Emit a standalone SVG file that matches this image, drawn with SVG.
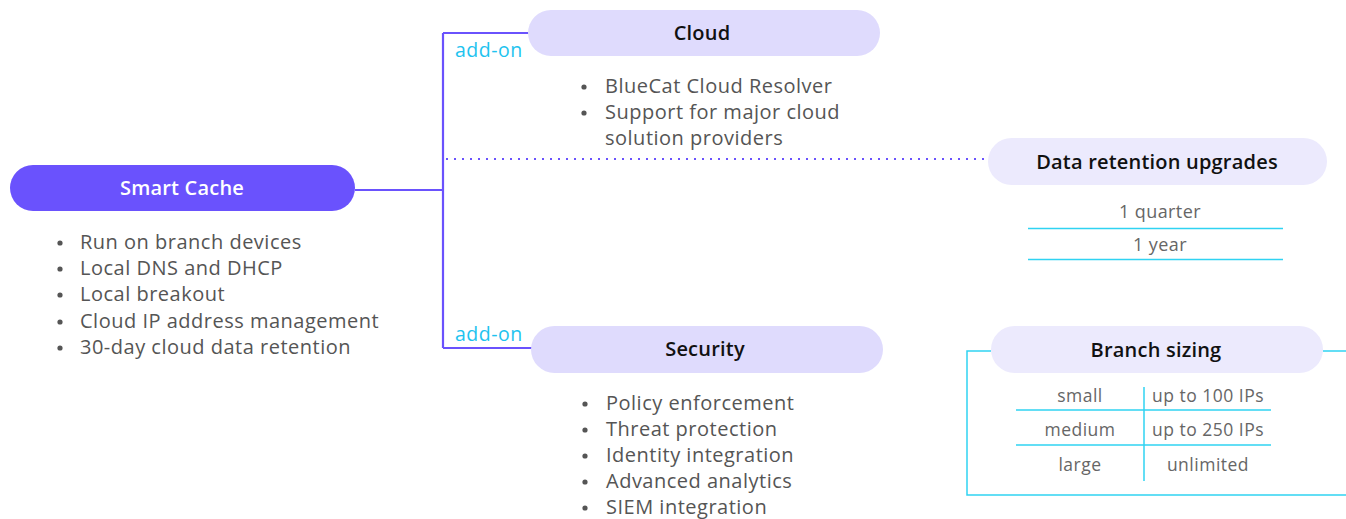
<svg xmlns="http://www.w3.org/2000/svg" width="1346" height="519" viewBox="0 0 1346 519">
<style>
.hd{font-family:"Open Sans",Lato,sans-serif;font-weight:600;font-size:20px;letter-spacing:0.2px;text-anchor:middle;dominant-baseline:central;fill:#111}
.li{font-family:"Open Sans",Lato,sans-serif;font-size:20px;letter-spacing:0.5px;fill:#555;dominant-baseline:central}
.tb{font-family:"Open Sans",Lato,sans-serif;font-size:17.5px;letter-spacing:0.5px;fill:#666;text-anchor:middle;dominant-baseline:central}
.ad{font-family:"Open Sans",Lato,sans-serif;font-size:19.5px;letter-spacing:0.5px;fill:#1ec3ef;dominant-baseline:central}
.cy{stroke:#30d3f2;stroke-width:1.5;fill:none}
.b{fill:#555}
</style>
<rect width="1346" height="519" fill="#fff"/>
<g id="connectors" fill="none">
<path d="M355 190 H443 M443 33 V348 M443 33 H530 M443 348 H532" stroke="#6a52fd" stroke-width="2.2"/>
<path d="M446 159 H986" stroke="#6a52fd" stroke-width="2.2" stroke-dasharray="2 6"/>
<text class="ad" x="455" y="49">add-on</text>
<text class="ad" x="455" y="333">add-on</text>
</g>
<g id="smart-cache">
<rect x="10" y="165" width="345" height="46" rx="23" fill="#6a52fd"/>
<text class="hd" x="182" y="187" style="fill:#fff">Smart Cache</text>
<circle class="b" cx="60" cy="243" r="2.6"/><text class="li" x="80" y="241">Run on branch devices</text>
<circle class="b" cx="60" cy="269" r="2.6"/><text class="li" x="80" y="267">Local DNS and DHCP</text>
<circle class="b" cx="60" cy="295" r="2.6"/><text class="li" x="80" y="293">Local breakout</text>
<circle class="b" cx="60" cy="322" r="2.6"/><text class="li" x="80" y="320">Cloud IP address management</text>
<circle class="b" cx="60" cy="348" r="2.6"/><text class="li" x="80" y="346">30-day cloud data retention</text>
</g>
<g id="cloud">
<rect x="528" y="10" width="352" height="46" rx="23" fill="#dfdbfd"/>
<text class="hd" x="702" y="32">Cloud</text>
<circle class="b" cx="584" cy="87" r="2.6"/><text class="li" x="605" y="85">BlueCat Cloud Resolver</text>
<circle class="b" cx="584" cy="113" r="2.6"/><text class="li" x="605" y="111">Support for major cloud</text>
<text class="li" x="605" y="137">solution providers</text>
</g>
<g id="security">
<rect x="531" y="326" width="352" height="47" rx="23.5" fill="#dfdbfd"/>
<text class="hd" x="705" y="348">Security</text>
<circle class="b" cx="585" cy="404" r="2.6"/><text class="li" x="606" y="402">Policy enforcement</text>
<circle class="b" cx="585" cy="430" r="2.6"/><text class="li" x="606" y="428">Threat protection</text>
<circle class="b" cx="585" cy="456" r="2.6"/><text class="li" x="606" y="454">Identity integration</text>
<circle class="b" cx="585" cy="482" r="2.6"/><text class="li" x="606" y="480">Advanced analytics</text>
<circle class="b" cx="585" cy="508" r="2.6"/><text class="li" x="606" y="506">SIEM integration</text>
</g>
<g id="data-retention">
<rect x="988" y="138" width="339" height="47" rx="23.5" fill="#eceafd"/>
<text class="hd" x="1157" y="161">Data retention upgrades</text>
<text class="tb" x="1160" y="211" style="font-size:18px;letter-spacing:0.4px">1 quarter</text>
<path class="cy" d="M1028 228.5 H1283 M1028 259.5 H1283"/>
<text class="tb" x="1160" y="244" style="font-size:18px;letter-spacing:0.4px">1 year</text>
</g>
<g id="branch-sizing">
<path class="cy" d="M991 351 H967 V495 H1346 M1323 351 H1346"/>
<rect x="991" y="326" width="332" height="47" rx="23.5" fill="#eceafd"/>
<text class="hd" x="1156" y="349">Branch sizing</text>
<path class="cy" d="M1144 387 V481 M1016 410 H1271 M1016 445 H1271"/>
<text class="tb" x="1080" y="395">small</text>
<text class="tb" x="1208" y="395">up to 100 IPs</text>
<text class="tb" x="1080" y="429">medium</text>
<text class="tb" x="1208" y="429">up to 250 IPs</text>
<text class="tb" x="1080" y="464">large</text>
<text class="tb" x="1208" y="464">unlimited</text>
</g>
</svg>
